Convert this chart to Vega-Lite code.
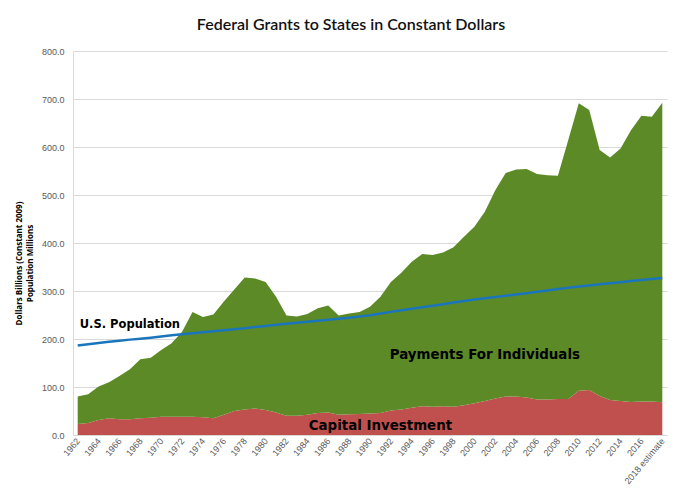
{
  "$schema": "https://vega.github.io/schema/vega-lite/v6.json",
  "width": 594,
  "height": 384,
  "autosize": {"type": "none"},
  "padding": {"left": 73, "top": 51, "right": 20, "bottom": 62},
  "background": "white",
  "title": {
    "text": "Federal Grants to States in Constant Dollars",
    "font": "Lato",
    "fontSize": 16,
    "fontWeight": 600,
    "color": "#111111",
    "anchor": "middle",
    "dx": -19,
    "offset": 14
  },
  "config": {
    "view": {"stroke": null},
    "axis": {"labelFont": "Liberation Sans", "labelColor": "#595959", "labelFontSize": 9}
  },
  "datasets": {
    "grants": [
      {"year": "1962", "capital": 23, "payments": 57, "population": 186.5},
      {"year": "1963", "capital": 25, "payments": 60, "population": 189.2},
      {"year": "1964", "capital": 31, "payments": 70, "population": 191.9},
      {"year": "1965", "capital": 35, "payments": 75, "population": 194.3},
      {"year": "1966", "capital": 33, "payments": 90, "population": 196.6},
      {"year": "1967", "capital": 33, "payments": 104, "population": 198.7},
      {"year": "1968", "capital": 35, "payments": 123, "population": 200.7},
      {"year": "1969", "capital": 36, "payments": 125, "population": 202.7},
      {"year": "1970", "capital": 38, "payments": 139, "population": 205.1},
      {"year": "1971", "capital": 38, "payments": 153, "population": 207.7},
      {"year": "1972", "capital": 38, "payments": 177, "population": 209.9},
      {"year": "1973", "capital": 38, "payments": 218, "population": 211.9},
      {"year": "1974", "capital": 37, "payments": 209, "population": 213.9},
      {"year": "1975", "capital": 35, "payments": 216, "population": 216.0},
      {"year": "1976", "capital": 42, "payments": 236, "population": 218.0},
      {"year": "1977", "capital": 50, "payments": 253, "population": 220.2},
      {"year": "1978", "capital": 53, "payments": 275, "population": 222.6},
      {"year": "1979", "capital": 55, "payments": 271, "population": 225.1},
      {"year": "1980", "capital": 52, "payments": 267, "population": 227.2},
      {"year": "1981", "capital": 47, "payments": 241, "population": 229.5},
      {"year": "1982", "capital": 40, "payments": 209, "population": 231.7},
      {"year": "1983", "capital": 40, "payments": 207, "population": 233.8},
      {"year": "1984", "capital": 42, "payments": 210, "population": 235.8},
      {"year": "1985", "capital": 46, "payments": 218, "population": 237.9},
      {"year": "1986", "capital": 47, "payments": 223, "population": 240.1},
      {"year": "1987", "capital": 42, "payments": 207, "population": 242.3},
      {"year": "1988", "capital": 43, "payments": 210, "population": 244.5},
      {"year": "1989", "capital": 44, "payments": 212, "population": 246.8},
      {"year": "1990", "capital": 45, "payments": 222, "population": 249.6},
      {"year": "1991", "capital": 46, "payments": 242, "population": 253.0},
      {"year": "1992", "capital": 51, "payments": 268, "population": 256.5},
      {"year": "1993", "capital": 53, "payments": 285, "population": 259.9},
      {"year": "1994", "capital": 57, "payments": 304, "population": 263.1},
      {"year": "1995", "capital": 60, "payments": 317, "population": 266.3},
      {"year": "1996", "capital": 59, "payments": 316, "population": 269.4},
      {"year": "1997", "capital": 60, "payments": 320, "population": 272.6},
      {"year": "1998", "capital": 59, "payments": 332, "population": 275.9},
      {"year": "1999", "capital": 62, "payments": 351, "population": 279.0},
      {"year": "2000", "capital": 66, "payments": 368, "population": 282.2},
      {"year": "2001", "capital": 71, "payments": 394, "population": 285.0},
      {"year": "2002", "capital": 76, "payments": 434, "population": 287.6},
      {"year": "2003", "capital": 80, "payments": 466, "population": 290.1},
      {"year": "2004", "capital": 80, "payments": 473, "population": 292.8},
      {"year": "2005", "capital": 78, "payments": 476, "population": 295.5},
      {"year": "2006", "capital": 74, "payments": 470, "population": 298.4},
      {"year": "2007", "capital": 74, "payments": 467, "population": 301.2},
      {"year": "2008", "capital": 75, "payments": 465, "population": 304.1},
      {"year": "2009", "capital": 75, "payments": 540, "population": 306.8},
      {"year": "2010", "capital": 92, "payments": 599, "population": 309.3},
      {"year": "2011", "capital": 94, "payments": 583, "population": 311.6},
      {"year": "2012", "capital": 81, "payments": 513, "population": 313.9},
      {"year": "2013", "capital": 73, "payments": 505, "population": 316.1},
      {"year": "2014", "capital": 71, "payments": 526, "population": 318.4},
      {"year": "2015", "capital": 69, "payments": 566, "population": 320.7},
      {"year": "2016", "capital": 70, "payments": 595, "population": 323.1},
      {"year": "2017", "capital": 70, "payments": 593, "population": 325.1},
      {"year": "2018 estimate", "capital": 68, "payments": 624, "population": 327.2}
    ],
    "popLabel": [
      {"year": "1967", "value": 229, "text": "U.S. Population"}
    ],
    "areaLabels": [
      {"year": "2001", "value": 167, "text": "Payments For Individuals"},
      {"year": "1991", "value": 19, "text": "Capital Investment"}
    ]
  },
  "layer": [
    {
      "data": {"name": "grants"},
      "transform": [{"fold": ["capital", "payments"], "as": ["series", "value"]}],
      "mark": {"type": "area", "opacity": 1},
      "encoding": {
        "x": {
          "field": "year", "type": "ordinal",
          "scale": {"type": "point", "padding": 0.45},
          "axis": {
            "title": null,
            "labelAngle": -50,
            "ticks": false,
            "domainColor": "#d9d9d9",
            "labelPadding": 4,
            "values": ["1962","1964","1966","1968","1970","1972","1974","1976","1978","1980","1982","1984","1986","1988","1990","1992","1994","1996","1998","2000","2002","2004","2006","2008","2010","2012","2014","2016","2018 estimate"]
          }
        },
        "y": {
          "field": "value", "type": "quantitative", "stack": "zero",
          "scale": {"domain": [0, 800]},
          "axis": {
            "values": [0,100,200,300,400,500,600,700,800],
            "format": ".1f",
            "ticks": false,
            "domainColor": "#d9d9d9",
            "gridColor": "#d9d9d9",
            "labelPadding": 9,
            "title": ["Dollars Billions (Constant 2009)", "Population Millions"],
            "titleFont": "Open Sans",
            "titleFontSize": 8,
            "titleFontWeight": "bold",
            "titleColor": "#000000",
            "titlePadding": 7,
            "titleY": 212,
            "titleLineHeight": 11
          }
        },
        "order": {"field": "series", "sort": "ascending"},
        "color": {
          "field": "series", "type": "nominal",
          "scale": {"domain": ["capital", "payments"], "range": ["#c0504d", "#5b8a27"]},
          "legend": null
        }
      }
    },
    {
      "data": {"name": "grants"},
      "mark": {"type": "line", "color": "#1b75bc", "strokeWidth": 2.5},
      "encoding": {
        "x": {"field": "year", "type": "ordinal"},
        "y": {"field": "population", "type": "quantitative"}
      }
    },
    {
      "data": {"name": "popLabel"},
      "mark": {"type": "text", "font": "DejaVu Sans", "fontWeight": "bold", "fontSize": 11.5, "color": "#000000", "align": "center", "baseline": "middle"},
      "encoding": {
        "x": {"field": "year", "type": "ordinal"},
        "y": {"field": "value", "type": "quantitative"},
        "text": {"field": "text"}
      }
    },
    {
      "data": {"name": "areaLabels"},
      "mark": {"type": "text", "font": "DejaVu Sans", "fontWeight": "bold", "fontSize": 13.4, "color": "#000000", "align": "center", "baseline": "middle"},
      "encoding": {
        "x": {"field": "year", "type": "ordinal"},
        "y": {"field": "value", "type": "quantitative"},
        "text": {"field": "text"}
      }
    }
  ]
}
